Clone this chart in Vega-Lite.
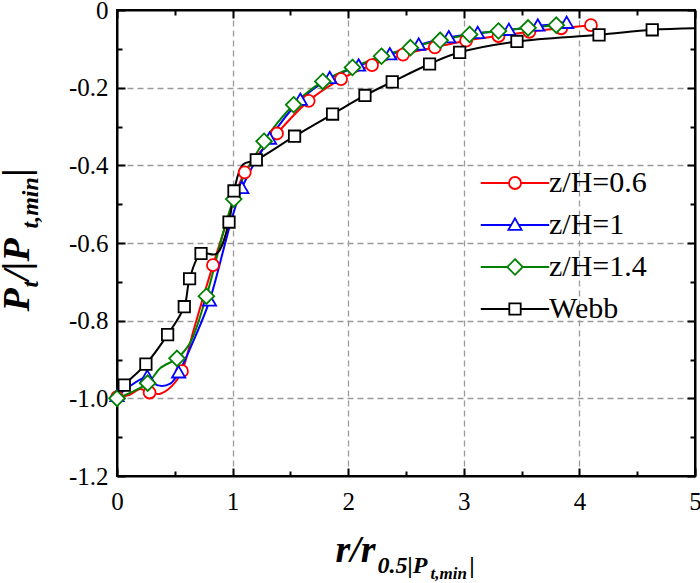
{
  "$schema": "https://vega.github.io/schema/vega-lite/v6.json",
  "width": 578,
  "height": 466,
  "autosize": {"type": "none"},
  "padding": {"left": 117, "top": 10, "right": 5, "bottom": 107},
  "background": "white",
  "config": {
    "view": {"stroke": "black", "strokeWidth": 2},
    "font": "Liberation Serif, Times New Roman, serif",
    "axis": {
      "labelFont": "Liberation Serif, Times New Roman, serif",
      "titleFont": "Liberation Serif, Times New Roman, serif",
      "titleFontStyle": "italic",
      "titleFontWeight": "bold",
      "titleColor": "black"
    },
    "legend": {
      "orient": "none",
      "legendX": 383,
      "legendY": 158,
      "padding": 0,
      "labelFont": "Liberation Serif, Times New Roman, serif",
      "labelFontSize": 30,
      "labelColor": "black",
      "labelOffset": 19,
      "rowPadding": 12,
      "symbolSize": 144,
      "symbolStrokeWidth": 1.8,
      "symbolFillColor": "white",
      "symbolOpacity": 1
    }
  },
  "datasets": {
    "curves": [
      {"series": "z/H=0.6", "r": 0, "p": -0.997},
      {"series": "z/H=0.6", "r": 0.115, "p": -0.99},
      {"series": "z/H=0.6", "r": 0.2, "p": -0.976},
      {"series": "z/H=0.6", "r": 0.282, "p": -0.985},
      {"series": "z/H=0.6", "r": 0.375, "p": -0.988},
      {"series": "z/H=0.6", "r": 0.476, "p": -0.968},
      {"series": "z/H=0.6", "r": 0.562, "p": -0.93},
      {"series": "z/H=0.6", "r": 0.663, "p": -0.824},
      {"series": "z/H=0.6", "r": 0.83, "p": -0.657},
      {"series": "z/H=0.6", "r": 0.966, "p": -0.532},
      {"series": "z/H=0.6", "r": 1.105, "p": -0.418},
      {"series": "z/H=0.6", "r": 1.384, "p": -0.318},
      {"series": "z/H=0.6", "r": 1.658, "p": -0.234},
      {"series": "z/H=0.6", "r": 1.938, "p": -0.178},
      {"series": "z/H=0.6", "r": 2.206, "p": -0.142},
      {"series": "z/H=0.6", "r": 2.474, "p": -0.115},
      {"series": "z/H=0.6", "r": 2.75, "p": -0.096},
      {"series": "z/H=0.6", "r": 3.02, "p": -0.079},
      {"series": "z/H=0.6", "r": 3.3, "p": -0.067},
      {"series": "z/H=0.6", "r": 3.567, "p": -0.056},
      {"series": "z/H=0.6", "r": 3.843, "p": -0.047},
      {"series": "z/H=0.6", "r": 4.1, "p": -0.039},

      {"series": "z/H=1", "r": 0, "p": -0.995},
      {"series": "z/H=1", "r": 0.262, "p": -0.945},
      {"series": "z/H=1", "r": 0.346, "p": -0.966},
      {"series": "z/H=1", "r": 0.461, "p": -0.962},
      {"series": "z/H=1", "r": 0.533, "p": -0.934},
      {"series": "z/H=1", "r": 0.677, "p": -0.841},
      {"series": "z/H=1", "r": 0.8, "p": -0.749},
      {"series": "z/H=1", "r": 1.08, "p": -0.459},
      {"series": "z/H=1", "r": 1.32, "p": -0.332},
      {"series": "z/H=1", "r": 1.586, "p": -0.232},
      {"series": "z/H=1", "r": 1.84, "p": -0.176},
      {"series": "z/H=1", "r": 2.09, "p": -0.144},
      {"series": "z/H=1", "r": 2.36, "p": -0.115},
      {"series": "z/H=1", "r": 2.61, "p": -0.09},
      {"series": "z/H=1", "r": 2.87, "p": -0.071},
      {"series": "z/H=1", "r": 3.12, "p": -0.06},
      {"series": "z/H=1", "r": 3.39, "p": -0.052},
      {"series": "z/H=1", "r": 3.64, "p": -0.041},
      {"series": "z/H=1", "r": 3.89, "p": -0.034},

      {"series": "z/H=1.4", "r": 0, "p": -1.0},
      {"series": "z/H=1.4", "r": 0.265, "p": -0.961},
      {"series": "z/H=1.4", "r": 0.375, "p": -0.922},
      {"series": "z/H=1.4", "r": 0.519, "p": -0.897},
      {"series": "z/H=1.4", "r": 0.634, "p": -0.856},
      {"series": "z/H=1.4", "r": 0.773, "p": -0.737},
      {"series": "z/H=1.4", "r": 1.01, "p": -0.487},
      {"series": "z/H=1.4", "r": 1.272, "p": -0.338},
      {"series": "z/H=1.4", "r": 1.528, "p": -0.244},
      {"series": "z/H=1.4", "r": 1.78, "p": -0.184},
      {"series": "z/H=1.4", "r": 2.037, "p": -0.148},
      {"series": "z/H=1.4", "r": 2.288, "p": -0.119},
      {"series": "z/H=1.4", "r": 2.538, "p": -0.097},
      {"series": "z/H=1.4", "r": 2.795, "p": -0.078},
      {"series": "z/H=1.4", "r": 3.05, "p": -0.063},
      {"series": "z/H=1.4", "r": 3.3, "p": -0.054},
      {"series": "z/H=1.4", "r": 3.556, "p": -0.046},
      {"series": "z/H=1.4", "r": 3.8, "p": -0.039},

      {"series": "Webb", "r": 0, "p": -0.99},
      {"series": "Webb", "r": 0.063, "p": -0.966},
      {"series": "Webb", "r": 0.25, "p": -0.912},
      {"series": "Webb", "r": 0.438, "p": -0.836},
      {"series": "Webb", "r": 0.582, "p": -0.764},
      {"series": "Webb", "r": 0.628, "p": -0.692},
      {"series": "Webb", "r": 0.727, "p": -0.627},
      {"series": "Webb", "r": 0.86, "p": -0.628},
      {"series": "Webb", "r": 0.969, "p": -0.546},
      {"series": "Webb", "r": 1.012, "p": -0.466},
      {"series": "Webb", "r": 1.09, "p": -0.398},
      {"series": "Webb", "r": 1.205, "p": -0.386},
      {"series": "Webb", "r": 1.536, "p": -0.325},
      {"series": "Webb", "r": 1.865, "p": -0.268},
      {"series": "Webb", "r": 2.145, "p": -0.22},
      {"series": "Webb", "r": 2.381, "p": -0.185},
      {"series": "Webb", "r": 2.704, "p": -0.139},
      {"series": "Webb", "r": 2.964, "p": -0.109},
      {"series": "Webb", "r": 3.46, "p": -0.081},
      {"series": "Webb", "r": 4.17, "p": -0.064},
      {"series": "Webb", "r": 4.63, "p": -0.051},
      {"series": "Webb", "r": 5.0, "p": -0.047}
    ],
    "markers": [
      {"series": "z/H=0.6", "r": 0, "p": -0.997},
      {"series": "z/H=0.6", "r": 0.282, "p": -0.985},
      {"series": "z/H=0.6", "r": 0.562, "p": -0.93},
      {"series": "z/H=0.6", "r": 0.83, "p": -0.657},
      {"series": "z/H=0.6", "r": 1.105, "p": -0.418},
      {"series": "z/H=0.6", "r": 1.384, "p": -0.318},
      {"series": "z/H=0.6", "r": 1.658, "p": -0.234},
      {"series": "z/H=0.6", "r": 1.938, "p": -0.178},
      {"series": "z/H=0.6", "r": 2.206, "p": -0.142},
      {"series": "z/H=0.6", "r": 2.474, "p": -0.115},
      {"series": "z/H=0.6", "r": 2.75, "p": -0.096},
      {"series": "z/H=0.6", "r": 3.02, "p": -0.079},
      {"series": "z/H=0.6", "r": 3.3, "p": -0.067},
      {"series": "z/H=0.6", "r": 3.567, "p": -0.056},
      {"series": "z/H=0.6", "r": 3.843, "p": -0.047},
      {"series": "z/H=0.6", "r": 4.1, "p": -0.039},

      {"series": "z/H=1", "r": 0, "p": -0.995},
      {"series": "z/H=1", "r": 0.262, "p": -0.945},
      {"series": "z/H=1", "r": 0.533, "p": -0.934},
      {"series": "z/H=1", "r": 0.8, "p": -0.749},
      {"series": "z/H=1", "r": 1.08, "p": -0.459},
      {"series": "z/H=1", "r": 1.32, "p": -0.332},
      {"series": "z/H=1", "r": 1.586, "p": -0.232},
      {"series": "z/H=1", "r": 1.84, "p": -0.176},
      {"series": "z/H=1", "r": 2.09, "p": -0.144},
      {"series": "z/H=1", "r": 2.36, "p": -0.115},
      {"series": "z/H=1", "r": 2.61, "p": -0.09},
      {"series": "z/H=1", "r": 2.87, "p": -0.071},
      {"series": "z/H=1", "r": 3.12, "p": -0.06},
      {"series": "z/H=1", "r": 3.39, "p": -0.052},
      {"series": "z/H=1", "r": 3.64, "p": -0.041},
      {"series": "z/H=1", "r": 3.89, "p": -0.034},

      {"series": "z/H=1.4", "r": 0, "p": -1.0},
      {"series": "z/H=1.4", "r": 0.265, "p": -0.961},
      {"series": "z/H=1.4", "r": 0.519, "p": -0.897},
      {"series": "z/H=1.4", "r": 0.773, "p": -0.737},
      {"series": "z/H=1.4", "r": 1.01, "p": -0.487},
      {"series": "z/H=1.4", "r": 1.272, "p": -0.338},
      {"series": "z/H=1.4", "r": 1.528, "p": -0.244},
      {"series": "z/H=1.4", "r": 1.78, "p": -0.184},
      {"series": "z/H=1.4", "r": 2.037, "p": -0.148},
      {"series": "z/H=1.4", "r": 2.288, "p": -0.119},
      {"series": "z/H=1.4", "r": 2.538, "p": -0.097},
      {"series": "z/H=1.4", "r": 2.795, "p": -0.078},
      {"series": "z/H=1.4", "r": 3.05, "p": -0.063},
      {"series": "z/H=1.4", "r": 3.3, "p": -0.054},
      {"series": "z/H=1.4", "r": 3.556, "p": -0.046},
      {"series": "z/H=1.4", "r": 3.8, "p": -0.039},

      {"series": "Webb", "r": 0.063, "p": -0.966},
      {"series": "Webb", "r": 0.25, "p": -0.912},
      {"series": "Webb", "r": 0.438, "p": -0.836},
      {"series": "Webb", "r": 0.582, "p": -0.764},
      {"series": "Webb", "r": 0.628, "p": -0.692},
      {"series": "Webb", "r": 0.727, "p": -0.627},
      {"series": "Webb", "r": 0.969, "p": -0.546},
      {"series": "Webb", "r": 1.012, "p": -0.466},
      {"series": "Webb", "r": 1.205, "p": -0.386},
      {"series": "Webb", "r": 1.536, "p": -0.325},
      {"series": "Webb", "r": 1.865, "p": -0.268},
      {"series": "Webb", "r": 2.145, "p": -0.22},
      {"series": "Webb", "r": 2.381, "p": -0.185},
      {"series": "Webb", "r": 2.704, "p": -0.139},
      {"series": "Webb", "r": 2.964, "p": -0.109},
      {"series": "Webb", "r": 3.46, "p": -0.081},
      {"series": "Webb", "r": 4.17, "p": -0.064},
      {"series": "Webb", "r": 4.63, "p": -0.051}
    ]
  },
  "layer": [
    {
      "data": {"name": "curves"},
      "mark": {"type": "line", "interpolate": "catmull-rom", "strokeWidth": 2, "clip": true},
      "encoding": {
        "x": {
          "field": "r", "type": "quantitative",
          "scale": {"domain": [0, 5], "nice": false, "zero": false},
          "axis": {
            "values": [0, 0.5, 1, 1.5, 2, 2.5, 3, 3.5, 4, 4.5, 5],
            "labelExpr": "datum.value % 1 === 0 ? format(datum.value, 'd') : ''",
            "labelFontSize": 25, "labelColor": "black",
            "labelPadding": 21, "labelFlush": false, "labelOverlap": false, "labelBound": false,
            "tickColor": "black", "tickWidth": 2,
            "tickSize": {"condition": {"test": "datum.value % 1 === 0", "value": -8}, "value": -5},
            "domainColor": "black", "domainWidth": 2,
            "grid": true, "gridColor": "#9a9a9a", "gridDash": [6, 4], "gridWidth": 1.3,
            "gridOpacity": {"condition": {"test": "datum.value % 1 === 0 && datum.value > 0 && datum.value < 5", "value": 1}, "value": 0},
            "title": "r/r",
            "titleFontSize": 38, "titleAnchor": null, "titleAlign": "left", "titleBaseline": "alphabetic",
            "titleX": 218, "titleY": 85
          }
        },
        "y": {
          "field": "p", "type": "quantitative",
          "scale": {"domain": [-1.2, 0], "nice": false, "zero": false},
          "axis": {
            "values": [-1.2, -1.1, -1, -0.9, -0.8, -0.7, -0.6, -0.5, -0.4, -0.3, -0.2, -0.1, 0],
            "labelExpr": "abs(round(datum.value * 10)) % 2 === 0 ? (datum.value === 0 ? '0' : '-' + format(-datum.value, '.1f')) : ''",
            "labelFontSize": 25, "labelColor": "black",
            "labelPadding": 17, "labelFlush": false, "labelOverlap": false, "labelBound": false,
            "tickColor": "black", "tickWidth": 2,
            "tickSize": {"condition": {"test": "abs(round(datum.value * 10)) % 2 === 0", "value": -8}, "value": -5},
            "domainColor": "black", "domainWidth": 2,
            "grid": true, "gridColor": "#9a9a9a", "gridDash": [6, 4], "gridWidth": 1.3,
            "gridOpacity": {"condition": {"test": "abs(round(datum.value * 10)) % 2 === 0 && datum.value > -1.15 && datum.value < -0.05", "value": 1}, "value": 0},
            "title": "P",
            "titleFontSize": 38, "titleAngle": -90, "titleAnchor": null, "titleAlign": "left", "titleBaseline": "alphabetic",
            "titleX": -89, "titleY": 301
          }
        },
        "stroke": {
          "field": "series", "type": "nominal",
          "scale": {"domain": ["z/H=0.6", "z/H=1", "z/H=1.4", "Webb"], "range": ["#ff0000", "#0000ff", "#008000", "#000000"]},
          "legend": null
        }
      }
    },
    {
      "data": {"name": "markers"},
      "mark": {"type": "point", "filled": false, "fill": "white", "fillOpacity": 1, "opacity": 1, "size": 144, "strokeWidth": 1.8},
      "encoding": {
        "x": {"field": "r", "type": "quantitative", "axis": null},
        "y": {"field": "p", "type": "quantitative", "axis": null},
        "stroke": {
          "field": "series", "type": "nominal",
          "scale": {"domain": ["z/H=0.6", "z/H=1", "z/H=1.4", "Webb"], "range": ["#ff0000", "#0000ff", "#008000", "#000000"]},
          "legend": null
        },
        "shape": {
          "field": "series", "type": "nominal",
          "scale": {
            "domain": ["z/H=0.6", "z/H=1", "z/H=1.4", "Webb"],
            "range": [
              "M1,0A1,1 0 1 1 -1,0A1,1 0 1 1 1,0Z",
              "M0,-1.1L1.1,0.8L-1.1,0.8Z",
              "M0,-1.3L1.3,0L0,1.3L-1.3,0Z",
              "M-0.95,-0.95H0.95V0.95H-0.95Z"
            ]
          },
          "legend": null
        }
      }
    },
    {
      "data": {"values": []},
      "mark": {"type": "point", "filled": false, "fill": "white", "size": 144, "strokeWidth": 1.8},
      "encoding": {
        "stroke": {
          "field": "series", "type": "nominal",
          "scale": {"domain": ["z/H=0.6", "z/H=1", "z/H=1.4", "Webb"], "range": ["#ff0000", "#0000ff", "#008000", "#000000"]},
          "legend": {"title": null}
        },
        "shape": {
          "field": "series", "type": "nominal",
          "scale": {
            "domain": ["z/H=0.6", "z/H=1", "z/H=1.4", "Webb"],
            "range": [
              "M-5.7,0H-1M1,0H5.7M1,0A1,1 0 1 1 -1,0A1,1 0 1 1 1,0Z",
              "M-5.7,0H-0.64M0.64,0H5.7M0,-1.1L1.1,0.8L-1.1,0.8Z",
              "M-5.7,0H-1.3M1.3,0H5.7M0,-1.3L1.3,0L0,1.3L-1.3,0Z",
              "M-5.7,0H-0.95M0.95,0H5.7M-0.95,-0.95H0.95V0.95H-0.95Z"
            ]
          },
          "legend": {"title": null}
        }
      }
    },
    {
      "data": {"name": "markers"},
      "mark": {"type": "point", "opacity": 0},
      "encoding": {
        "x": {
          "field": "r", "type": "quantitative",
          "axis": {
            "orient": "top",
            "values": [0, 0.5, 1, 1.5, 2, 2.5, 3, 3.5, 4, 4.5, 5],
            "labels": false, "grid": false, "title": null,
            "tickColor": "black", "tickWidth": 2,
            "tickSize": {"condition": {"test": "datum.value % 1 === 0", "value": -8}, "value": -5},
            "domainColor": "black", "domainWidth": 2
          }
        },
        "y": {
          "field": "p", "type": "quantitative",
          "axis": {
            "orient": "right",
            "values": [-1.2, -1.1, -1, -0.9, -0.8, -0.7, -0.6, -0.5, -0.4, -0.3, -0.2, -0.1, 0],
            "labels": false, "grid": false, "title": null,
            "tickColor": "black", "tickWidth": 2,
            "tickSize": {"condition": {"test": "abs(round(datum.value * 10)) % 2 === 0", "value": -8}, "value": -5},
            "domainColor": "black", "domainWidth": 2
          }
        }
      }
    },
    {
      "data": {"values": []},
      "mark": {"type": "point"},
      "encoding": {
        "x": {
          "field": "r", "type": "quantitative",
          "axis": {
            "orient": "bottom", "domain": false, "ticks": false, "labels": false, "grid": false,
            "title": "0.5|P", "titleFontSize": 24, "titleAnchor": null, "titleAlign": "left", "titleBaseline": "alphabetic",
            "titleX": 260, "titleY": 96
          }
        },
        "y": {
          "field": "p", "type": "quantitative",
          "axis": {
            "orient": "left", "domain": false, "ticks": false, "labels": false, "grid": false,
            "title": "t", "titleFontSize": 24, "titleAngle": -90, "titleAnchor": null, "titleAlign": "left", "titleBaseline": "alphabetic",
            "titleX": -80, "titleY": 277
          }
        }
      }
    },
    {
      "data": {"values": []},
      "mark": {"type": "point"},
      "encoding": {
        "x": {
          "field": "r", "type": "quantitative",
          "axis": {
            "orient": "bottom", "domain": false, "ticks": false, "labels": false, "grid": false,
            "title": "t,min", "titleFontSize": 17, "titleAnchor": null, "titleAlign": "left", "titleBaseline": "alphabetic",
            "titleX": 313, "titleY": 102
          }
        },
        "y": {
          "field": "p", "type": "quantitative",
          "axis": {
            "orient": "left", "domain": false, "ticks": false, "labels": false, "grid": false,
            "title": " /|P", "titleFontSize": 38, "titleAngle": -90, "titleAnchor": null, "titleAlign": "left", "titleBaseline": "alphabetic",
            "titleX": -89, "titleY": 270
          }
        }
      }
    },
    {
      "data": {"values": []},
      "mark": {"type": "point"},
      "encoding": {
        "x": {
          "field": "r", "type": "quantitative",
          "axis": {
            "orient": "bottom", "domain": false, "ticks": false, "labels": false, "grid": false,
            "title": "|", "titleFontSize": 24, "titleAnchor": null, "titleAlign": "left", "titleBaseline": "alphabetic",
            "titleX": 352, "titleY": 96
          }
        },
        "y": {
          "field": "p", "type": "quantitative",
          "axis": {
            "orient": "left", "domain": false, "ticks": false, "labels": false, "grid": false,
            "title": "t,min", "titleFontSize": 24, "titleAngle": -90, "titleAnchor": null, "titleAlign": "left", "titleBaseline": "alphabetic",
            "titleX": -80, "titleY": 218
          }
        }
      }
    },
    {
      "data": {"values": []},
      "mark": {"type": "point"},
      "encoding": {
        "y": {
          "field": "p", "type": "quantitative",
          "axis": {
            "orient": "left", "domain": false, "ticks": false, "labels": false, "grid": false,
            "title": "|", "titleFontSize": 38, "titleAngle": -90, "titleAnchor": null, "titleAlign": "left", "titleBaseline": "alphabetic",
            "titleX": -89, "titleY": 166
          }
        }
      }
    }
  ],
  "resolve": {
    "scale": {"shape": "independent", "stroke": "independent"},
    "axis": {"x": "independent", "y": "independent"}
  }
}
